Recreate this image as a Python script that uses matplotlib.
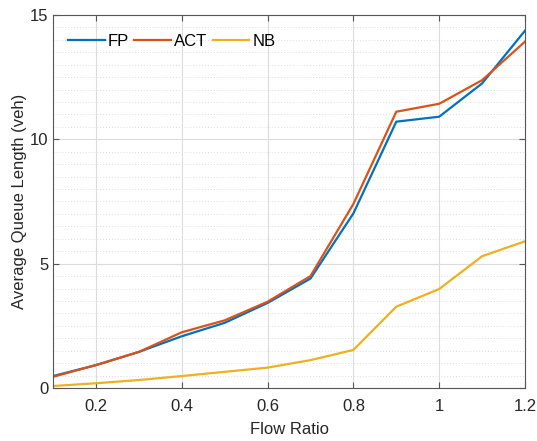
import matplotlib
matplotlib.use("Agg")
import matplotlib.pyplot as plt
from matplotlib.ticker import MultipleLocator

plt.rcParams['font.family'] = ['Liberation Sans', 'DejaVu Sans']

flow_ratio = [0.1, 0.2, 0.3, 0.4, 0.5, 0.6, 0.7, 0.8, 0.9, 1.0, 1.1, 1.2]
fp  = [0.48, 0.92, 1.45, 2.08, 2.62, 3.42, 4.40, 7.02, 10.71, 10.91, 12.25, 14.37]
act = [0.45, 0.92, 1.45, 2.24, 2.72, 3.47, 4.50, 7.40, 11.11, 11.43, 12.38, 13.93]
nb  = [0.08, 0.19, 0.32, 0.48, 0.65, 0.82, 1.12, 1.53, 3.27, 3.98, 5.30, 5.90]

series_names = ["FP", "ACT", "NB"]
colors = ["#0072BD", "#D95319", "#EDB120"]
x_ticks = [0.2, 0.4, 0.6, 0.8, 1.0, 1.2]
x_tick_labels = ["0.2", "0.4", "0.6", "0.8", "1", "1.2"]
y_ticks = [0, 5, 10, 15]

fig = plt.figure(figsize=(5.37, 4.41), dpi=100)
ax = fig.add_axes([0.0987, 0.1202, 0.8790, 0.8458])

for vals, name, c in zip([fp, act, nb], series_names, colors):
    ax.plot(flow_ratio, vals, color=c, lw=1.6, label=name)

ax.set_xlim(0.1, 1.2)
ax.set_ylim(0, 15)
ax.set_xticks(x_ticks)
ax.set_xticklabels(x_tick_labels)
ax.set_yticks(y_ticks)
ax.yaxis.set_minor_locator(MultipleLocator(0.5))

ax.grid(True, which='major', color='#dcdcdc', lw=0.8)
ax.grid(True, which='minor', axis='y', color='#dcdcdc', lw=0.7, linestyle=(0, (1, 2)))
ax.set_axisbelow(True)

for s in ax.spines.values():
    s.set_color('#555555')
    s.set_linewidth(0.8)
ax.tick_params(which='both', direction='in', top=True, right=True,
               colors='#262626', labelsize=12)
ax.tick_params(which='major', length=4, color='#555555')
ax.tick_params(axis='x', pad=8)
ax.tick_params(which='minor', length=0)

ax.set_xlabel("Flow Ratio", fontsize=12, color='#262626', labelpad=6)
ax.set_ylabel("Average Queue Length (veh)", fontsize=12, color='#262626', labelpad=2)

ax.legend(loc='upper left', ncol=3, frameon=False, fontsize=12,
          handlelength=2.2, handletextpad=0.2, columnspacing=0.3,
          bbox_to_anchor=(0.0, 0.99))

fig.savefig("out.png", dpi=100)
